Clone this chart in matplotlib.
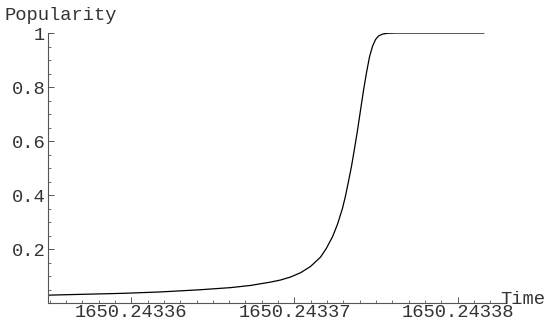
import numpy as np
import matplotlib
matplotlib.use("Agg")
import matplotlib.pyplot as plt
from matplotlib.ticker import MultipleLocator, FixedLocator, FixedFormatter

# values
time = [1650.2433549, 1650.2433569, 1650.2433596, 1650.2433618, 1650.2433642,
        1650.2433661, 1650.2433673, 1650.2433685, 1650.24336914, 1650.24336975,
        1650.24337037, 1650.24337098, 1650.24337160, 1650.24337196, 1650.24337233,
        1650.24337264, 1650.24337294, 1650.24337313, 1650.24337331, 1650.24337350,
        1650.24337368, 1650.24337387, 1650.24337405, 1650.24337423, 1650.24337442,
        1650.24337460, 1650.24337479, 1650.24337497, 1650.24337515, 1650.24337540,
        1650.24337571, 1650.24337620, 1650.24338160]
popularity = [0.029, 0.032, 0.036, 0.041, 0.049,
              0.057, 0.065, 0.077, 0.085, 0.096,
              0.112, 0.135, 0.170, 0.203, 0.245,
              0.292, 0.350, 0.397, 0.450, 0.508,
              0.572, 0.642, 0.715, 0.787, 0.855,
              0.912, 0.952, 0.976, 0.989, 0.996,
              0.999, 1.000, 1.000]

x_ticks = [1650.24336, 1650.24337, 1650.24338]
x_tick_labels = ["1650.24336", "1650.24337", "1650.24338"]
y_ticks = [0.2, 0.4, 0.6, 0.8, 1.0]
y_tick_labels = ["0.2", "0.4", "0.6", "0.8", "1"]
x_range = (1650.2433549, 1650.2433829)

plt.rcParams['font.family'] = ['Liberation Mono', 'DejaVu Sans Mono']
txt_color = '#333333'

fig = plt.figure(figsize=(5.45, 3.2), dpi=100)
ax = fig.add_axes([48 / 545, 17 / 320, 457 / 545, 270 / 320])

ax.plot(time, popularity, color='black', lw=0.9)

ax.set_xlim(*x_range)
ax.set_ylim(0, 1)

for s in ['top', 'right']:
    ax.spines[s].set_visible(False)
for s in ['left', 'bottom']:
    ax.spines[s].set_color('#555555')
    ax.spines[s].set_linewidth(0.8)

ax.xaxis.set_major_locator(FixedLocator(x_ticks))
ax.xaxis.set_major_formatter(FixedFormatter(x_tick_labels))
ax.xaxis.set_minor_locator(MultipleLocator(1e-6))
ax.yaxis.set_major_locator(FixedLocator(y_ticks))
ax.yaxis.set_major_formatter(FixedFormatter(y_tick_labels))
ax.yaxis.set_minor_locator(MultipleLocator(0.05))

ax.tick_params(which='major', direction='in', length=4, width=0.7,
               color='#555555', labelsize=13.5, labelcolor=txt_color, pad=2)
ax.tick_params(which='minor', direction='in', length=2, width=0.6, color='#555555')
ax.tick_params(axis='x', which='major', pad=1)

fig.text(4 / 545, 1 - 15 / 320, "Popularity", fontsize=13.5, color=txt_color,
         ha='left', va='center')
fig.text(500 / 545, 1 - 300 / 320, "Time", fontsize=13.5, color=txt_color,
         ha='left', va='center')

fig.savefig("out.png", dpi=100)
